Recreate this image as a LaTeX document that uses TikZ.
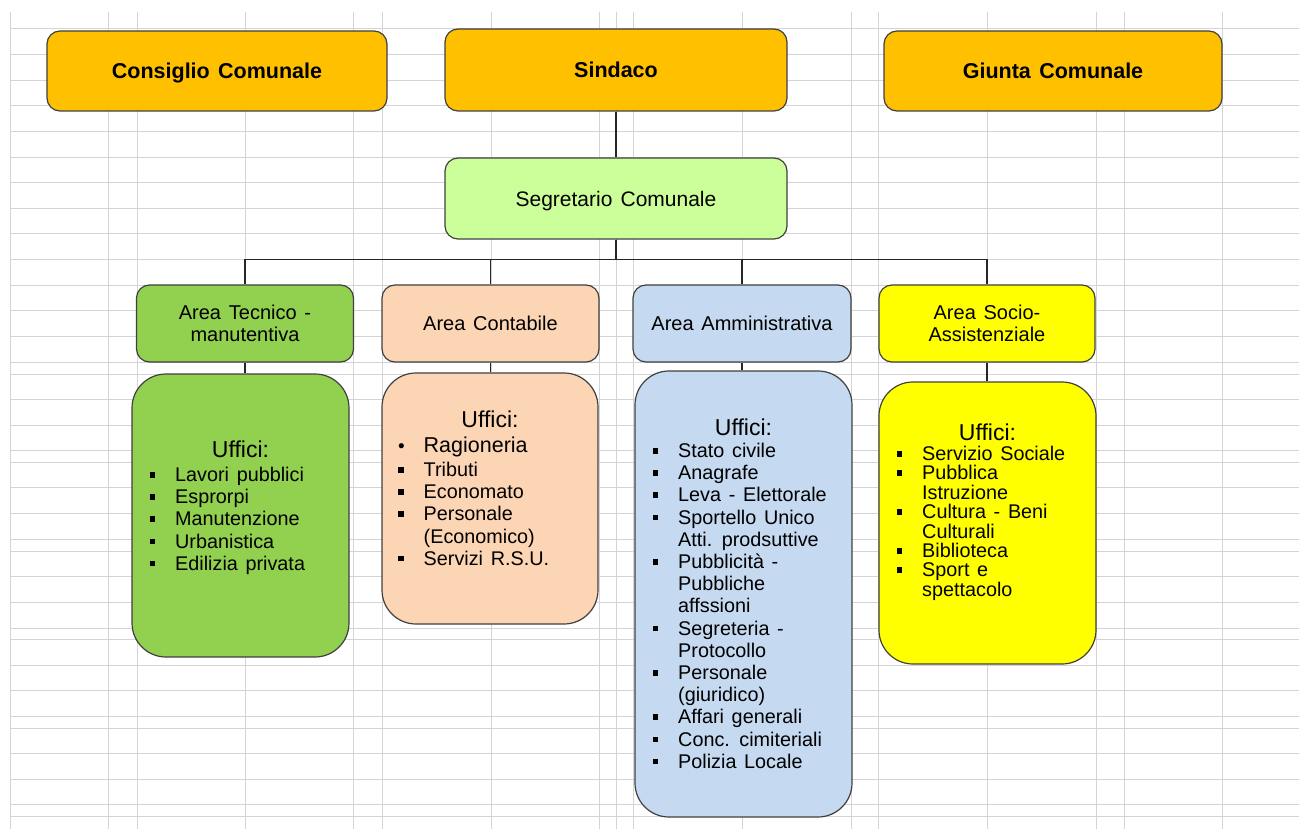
\documentclass[tikz,border=0pt]{standalone}
\usepackage{fontspec}
\setmainfont[WordSpace=1.4]{Liberation Sans}

\definecolor{oro}{HTML}{FFC000}
\definecolor{verdino}{HTML}{CCFF99}
\definecolor{tecn}{HTML}{92D050}
\definecolor{cont}{HTML}{FCD5B4}
\definecolor{ammi}{HTML}{C5D9F1}
\definecolor{soci}{HTML}{FFFF00}
\definecolor{griglia}{HTML}{D4D4D4}
\definecolor{bordo}{HTML}{404040}

\newcommand{\qd}{\makebox[25.5pt][l]{\raisebox{4pt}{\rule{5.5pt}{5.5pt}}}}
\newcommand{\tondo}{\makebox[25.5pt][l]{\fontsize{19}{19}\selectfont\raisebox{-0.5pt}{\textbullet}}}
\newcommand{\rie}{\hspace*{25.5pt}}

\begin{document}
\begin{tikzpicture}[x=1pt,y=-1pt,
    cella/.style={griglia,line width=1pt},
    capo/.style={draw=bordo,line width=1.2pt,fill=oro,rounded corners=13pt,inner sep=0pt,minimum width=340pt,minimum height=80pt,text depth=0pt,font=\bfseries\fontsize{21.5}{25}\selectfont},
    area/.style={draw=bordo,line width=1.2pt,rounded corners=13pt,inner sep=0pt,minimum width=217pt,minimum height=77pt,align=center,font=\fontsize{20}{21.5}\selectfont},
    uff/.style={draw=bordo,line width=1.2pt,rounded corners=34pt,inner sep=0pt,minimum width=217pt},
    titolo/.style={anchor=base,inner sep=0pt,font=\fontsize{23}{27}\selectfont},
    elenco/.style={anchor=north west,inner sep=0pt,align=left,font=\fontsize{19.8}{22.2}\selectfont},
    linea/.style={black!85,line width=1.1pt}]

    \useasboundingbox (0,0) rectangle (1299,829);

    % griglia del foglio
    \foreach \gx in {10,108,137,245,353,382,491,599,616,633,742,851,878,987,1096,1124,1222}
        \draw[cella] (\gx,12) -- (\gx,829);
    \foreach \gy in {29,54.6,80.2,105.9,131.5,157.1,182.7,208.3,234,259.6,285.2,310.8,336.4,362,374,399.3,425,450.7,462.3,487.7,513.7,539.3,551,576.7,602.3,628,639.3,665,690.7,716.3,728,753.7,779.3,804.7,816.3}
        \draw[cella] (10,\gy) -- (1299,\gy);

    \node[capo] (consiglio) at (217,71) {Consiglio Comunale};
    \node[capo,minimum width=342pt,minimum height=82pt] (sindaco) at (616,70) {Sindaco};
    \node[capo,minimum width=338pt] (giunta) at (1053,71) {Giunta Comunale};
    \node[capo,fill=verdino,font=\fontsize{21}{25}\selectfont,minimum width=342pt,minimum height=81pt] (segretario) at (616,198.5) {Segretario Comunale};

    \node[area,fill=tecn] (tecnica) at (245,323.5) {Area Tecnico -\\manutentiva};
    \node[area,fill=cont] (contabile) at (490.5,323.5) {Area Contabile};
    \node[area,fill=ammi,minimum width=218pt] (amministr) at (742,323.5) {Area Amministrativa};
    \node[area,fill=soci,minimum width=216pt] (sociale) at (987,323.5) {Area Socio-\\Assistenziale};

    \node[uff,fill=tecn,minimum height=283pt] (uTec) at (240.5,515.5) {};
    \node[uff,fill=cont,minimum width=216pt,minimum height=251pt] (uCon) at (490,498.5) {};
    \node[uff,fill=ammi,minimum height=446pt] (uAmm) at (743.5,594) {};
    \node[uff,fill=soci,minimum height=282pt] (uSoc) at (987.5,523) {};

    \draw[linea] (sindaco) -- (segretario);
    \foreach \a in {tecnica,contabile,amministr,sociale}
        \draw[linea] (segretario.south) -- ++(0,20) -| (\a.north);
    \foreach \a/\u in {tecnica/uTec,contabile/uCon,amministr/uAmm,sociale/uSoc}
        \draw[linea] (\a.south) -- (\a.south |- \u.north);

    \node[titolo] (hTec) at (240.5,457.3) {Uffici:};
    \node[elenco] (lTec) at (149.5,467) {\qd Lavori pubblici\\\qd Esprorpi\\\qd Manutenzione\\\qd Urbanistica\\\qd Edilizia privata};

    \node[titolo] (hCon) at (490,427.7) {Uffici:};
    \node[elenco] (lCon) at (398,436.5) {\tondo{\fontsize{21.5}{24}\selectfont Ragioneria}\\[2.1pt]\qd Tributi\\\qd Economato\\\qd Personale\\\rie(Economico)\\\qd Servizi R.S.U.};

    \node[titolo] (hAmm) at (743.5,435) {Uffici:};
    \node[elenco] (lAmm) at (652.5,443) {\qd Stato civile\\\qd Anagrafe\\\qd Leva - Elettorale\\\qd Sportello Unico\\\rie Atti. prodsuttive\\\qd Pubblicità -\\\rie Pubbliche\\\rie affssioni\\\qd Segreteria -\\\rie Protocollo\\\qd Personale\\\rie(giuridico)\\\qd Affari generali\\\qd Conc. cimiteriali\\\qd Polizia Locale};

    \node[titolo] (hSoc) at (987.5,440.7) {Uffici:};
    \node[elenco,font=\fontsize{19.8}{19.4}\selectfont] (lSoc) at (896.5,446) {\qd Servizio Sociale\\\qd Pubblica\\\rie Istruzione\\\qd Cultura - Beni\\\rie Culturali\\\qd Biblioteca\\\qd Sport e\\\rie spettacolo};
\end{tikzpicture}
\end{document}
